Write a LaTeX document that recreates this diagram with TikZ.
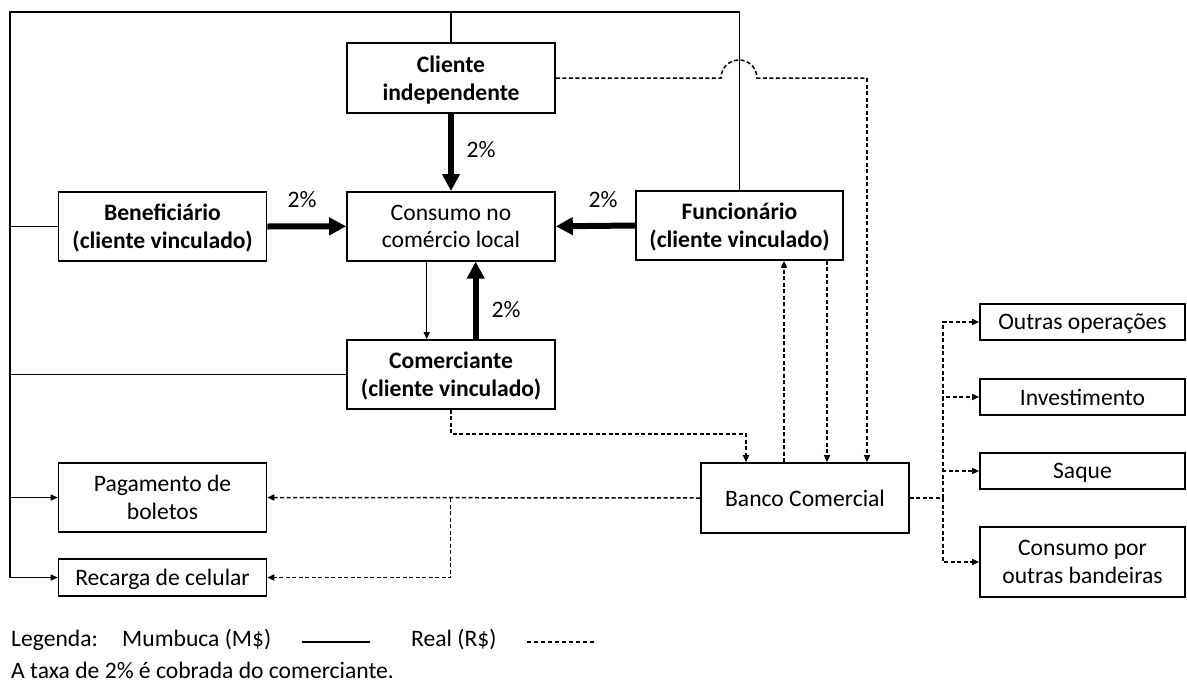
\documentclass[tikz,border=0pt]{standalone}
\usepackage{fontspec}
\setmainfont{Carlito}
\usetikzlibrary{arrows.meta}
\newcommand\dfont{\fontsize{23.6}{27.7}\selectfont}
\begin{document}
\begin{tikzpicture}[x=1pt,y=-1pt,
  box/.style={draw,line width=1.6pt,inner sep=0pt,align=center,font=\dfont,minimum width=208pt,minimum height=69pt,text depth=0pt},
  bbox/.style={box,font=\dfont\bfseries},
  txt/.style={inner sep=0pt,font=\dfont},
  thinln/.style={line width=1.3pt},
  thinarr/.style={thinln,-{Triangle[length=7pt,width=6pt]}},
  thickarr/.style={line width=6pt,-{Triangle[length=17pt,width=17pt]}},
  dsh/.style={line width=1.5pt,dash pattern=on 4pt off 2.5pt},
  dsharr/.style={dsh,-{Triangle[length=7pt,width=6pt]}}]
\useasboundingbox (0,0) rectangle (1187,691);

% boxes
\node[bbox,minimum height=70pt] (cli) at (451,78) {Cliente\\independente};
\node[box] (cons) at (451,226.3) {Consumo no\\comércio local};
\node[bbox] (ben) at (162.5,226.5) {Beneficiário\\(cliente vinculado)};
\node[bbox,minimum width=207pt] (fun) at (739.5,225.5) {Funcionário\\(cliente vinculado)};
\node[bbox] (com) at (451,374.5) {Comerciante\\(cliente vinculado)};
\node[box] (pag) at (162.5,497.5) {Pagamento de\\boletos};
\node[box,minimum height=37pt] (rec) at (162.5,577.5) {Recarga de celular};
\node[box,minimum height=70pt] (ban) at (805,498) {Banco Comercial};
\node[box,minimum width=205pt,minimum height=36pt] (out) at (1082.5,322) {Outras operações};
\node[box,minimum width=205pt,minimum height=36pt] (inv) at (1082.5,397) {Investimento};
\node[box,minimum width=205pt,minimum height=36pt] (saq) at (1082.5,471) {Saque};
\node[box,minimum width=205pt,minimum height=70pt] (cpo) at (1082.5,562) {Consumo por\\outras bandeiras};

% percentage labels
\node[txt] (p1) at (481,150) {2\%};
\node[txt] (p2) at (302,200) {2\%};
\node[txt] (p3) at (603,200) {2\%};
\node[txt] (p4) at (506,309.5) {2\%};

% solid (Mumbuca) frame
\coordinate (tl) at (10,12);
\draw[thinln] (cli.north) -- (cli.north |- tl);
\draw[thinln] (fun.north) -- (fun.north |- tl) -- (tl) -- (tl |- pag.west);
\draw[thinarr] (tl |- pag.west) -- (pag.west);
\draw[thinarr] (tl |- pag.west) -- (tl |- rec.west) -- (rec.west);
\draw[thinln] (ben.west) -- (ben.west -| tl);
\draw[thinln] (com.west) -- (com.west -| tl);
\draw[thinarr] ([xshift=-24.3pt]cons.south) -- ([xshift=-24.3pt]com.north);

% thick arrows
\draw[thickarr] (cli.south) -- (cons.north);
\draw[thickarr] (ben.east) -- (cons.west);
\draw[thickarr] (fun.west) -- (cons.east);
\draw[thickarr] ([xshift=24.7pt]com.north) -- ([xshift=24.7pt]cons.south);

% dashed (Real)
\coordinate (hopL) at (721,78);
\coordinate (hopR) at (757,78);
\coordinate (cr) at (867,78);
\draw[dsh] (cli.east) -- (hopL) arc[start angle=180,end angle=0,radius=18pt] -- (cr);
\draw[dsharr] (cr) -- (cr |- ban.north);
\coordinate (cb) at (746,434);
\draw[dsharr] (com.south) |- (cb) -- (cb |- ban.north);
\draw[dsharr] ([xshift=87.5pt]fun.south) -- ([xshift=87.5pt]fun.south |- ban.north);
\draw[dsharr] ([xshift=-21pt]ban.north) -- ([xshift=-21pt]ban.north |- fun.south);
\draw[dsharr] (ban.west) -- (pag.east);
\coordinate (br) at (450.5,498);
\draw[dsharr] (br) |- (rec.east);
\coordinate (rb) at (943,498);
\draw[dsh] (ban.east) -- (rb);
\draw[dsharr] (rb) |- (out.west);
\draw[dsharr] (rb) |- (inv.west);
\draw[dsharr] (rb) |- (saq.west);
\draw[dsharr] (rb) |- (cpo.west);

% legend
\node[txt,anchor=base west] (lg) at (11,646.7) {Legenda:};
\node[txt,anchor=base west] (mm) at (122,646.7) {Mumbuca (M\$)};
\coordinate (s1) at (302,642);
\coordinate (s2) at (370,642);
\draw[line width=1.1pt] (s1) -- (s2);
\node[txt,anchor=base west] (rl) at (411,646.7) {Real (R\$)};
\coordinate (d1) at (527,642);
\coordinate (d2) at (595,642);
\draw[line width=1.1pt,dash pattern=on 4pt off 3pt] (d1) -- (d2);
\node[txt,anchor=base west] (note) at (11,678) {A taxa de 2\% é cobrada do comerciante.};
\end{tikzpicture}
\end{document}
